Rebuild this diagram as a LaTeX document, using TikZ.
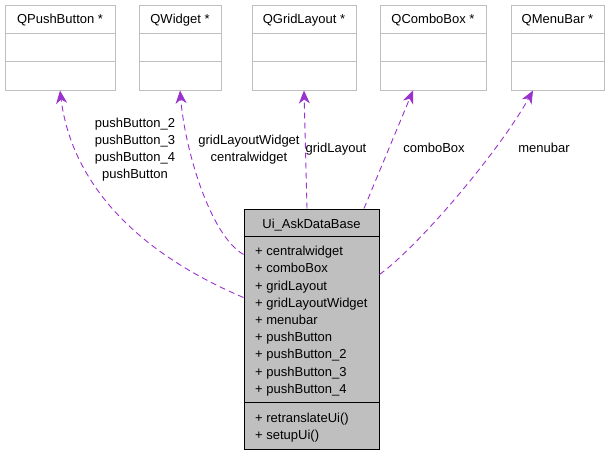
\documentclass[tikz,border=0pt]{standalone}
\usepackage{fontspec}
\setmainfont{Liberation Sans}
\usetikzlibrary{arrows.meta}
\definecolor{edgepurple}{HTML}{9A32CD}
\definecolor{boxgray}{HTML}{BFBFBF}
\begin{document}
\begin{tikzpicture}[x=1pt,y=-1pt,
  txt/.style={font=\fontsize{13}{17.2}\selectfont, inner sep=0pt},
  topbox/.style={draw=boxgray, line width=1pt, minimum height=85pt, inner sep=0pt},
  mainbox/.style={draw=black, fill=boxgray, line width=1pt, minimum width=135pt, minimum height=240pt, inner sep=0pt},
  assoc/.style={draw=edgepurple, line width=0.9pt, dash pattern=on 6pt off 4pt,
    -{Stealth[length=13pt,width=11pt,inset=4pt]}},
]
\useasboundingbox (0,0) rectangle (609,456);

% top classes
\foreach \n/\cx/\w/\t in {pb/60/110/{QPushButton *}, qw/180/82/{QWidget *}, gl/304/104/{QGridLayout *}, cb/433/106/{QComboBox *}, mb/557.5/93/{QMenuBar *}}{
  \node[topbox, minimum width=\w pt] (\n) at (\cx,47.5) {};
  \draw[boxgray, line width=1pt] ([yshift=-29pt]\n.north west) -- ([yshift=-29pt]\n.north east);
  \draw[boxgray, line width=1pt] ([yshift=-57pt]\n.north west) -- ([yshift=-57pt]\n.north east);
  \node[txt, anchor=base] (\n-title) at (\cx,23.5) {\t};
}

% main class
\node[mainbox] (m) at (311.5,329) {};
\draw[line width=1pt] ([yshift=-28pt]m.north west) -- ([yshift=-28pt]m.north east);
\draw[line width=1pt] ([yshift=-194pt]m.north west) -- ([yshift=-194pt]m.north east);
\node[txt, anchor=base] (mtitle) at (311.5,228) {Ui\_AskDataBase};
\foreach \i/\t in {0/centralwidget, 1/comboBox, 2/gridLayout, 3/gridLayoutWidget, 4/menubar, 5/pushButton, 6/pushButton\_2, 7/pushButton\_3, 8/pushButton\_4}{
  \node[txt, anchor=base west] (attr\i) at (255,{255.7+17.2*\i}) {+ \t};
}
\node[txt, anchor=base west] (meth0) at (255,422.7) {+ retranslateUi()};
\node[txt, anchor=base west] (meth1) at (255,439.9) {+ setupUi()};

% connector end points on the main class
\coordinate (s1) at ([yshift=-89pt]m.north west);
\coordinate (s2) at ([yshift=-46pt]m.north west);
\coordinate (s3) at ([xshift=-4.5pt]m.north);
\coordinate (s4) at ([xshift=52.5pt]m.north);
\coordinate (s5) at ([yshift=-66pt]m.north east);

% connectors
\draw[assoc] (s1) .. controls (120,245) and (70,170) .. (pb.south);
\draw[assoc] (s2) .. controls (210,235) and (185,150) .. (qw.south);
\draw[assoc] (s3) -- (gl.south);
\draw[assoc] (s4) -- ([xshift=-20pt]cb.south);
\draw[assoc] (s5) .. controls (420,245) and (500,150) .. ([xshift=-24.5pt]mb.south);

% labels
\foreach \i/\t in {0/pushButton\_2, 1/pushButton\_3, 2/pushButton\_4, 3/pushButton}{
  \node[txt, anchor=base] (lpb\i) at (135,{127.5+17*\i}) {\t};
}
\node[txt, anchor=base] (lqw0) at (249,144.3) {gridLayoutWidget};
\node[txt, anchor=base] (lqw1) at (249,161.3) {centralwidget};
\node[txt, anchor=base] (lgl) at (336,152.7) {gridLayout};
\node[txt, anchor=base] (lcb) at (434,152.7) {comboBox};
\node[txt, anchor=base] (lmb) at (544,152.7) {menubar};
\end{tikzpicture}
\end{document}
